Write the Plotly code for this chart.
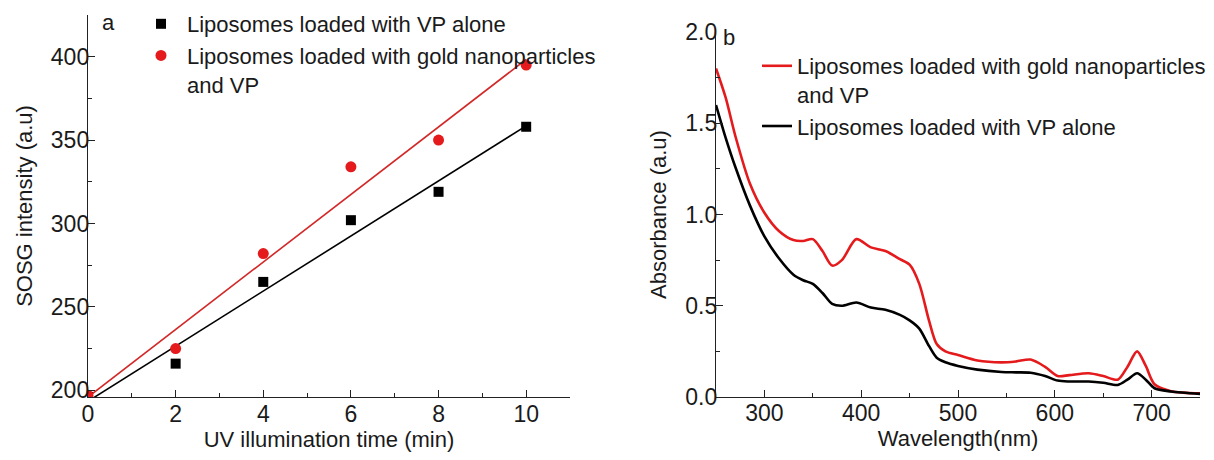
import numpy as np
import plotly.graph_objects as go

# ---------------- Panel a data ----------------
time_min = [0, 2, 4, 6, 8, 10]
sosg_vp_alone = [196, 216, 265, 302, 319, 358]
sosg_gold_vp = [197, 225, 282, 334, 350, 395]

# ---------------- Panel b data ----------------
wavelength = [250, 260, 270, 285, 300, 315, 330, 340, 350, 360, 370, 380, 395,
              410, 425, 440, 450, 460, 470, 478, 487, 500, 520, 545, 560, 575,
              590, 603, 615, 635, 650, 665, 675, 685, 694, 703, 720, 750]
abs_gold_vp = [1.80, 1.64, 1.43, 1.17, 1.01, 0.91, 0.86, 0.855, 0.865, 0.80, 0.72,
               0.75, 0.865, 0.82, 0.80, 0.755, 0.725, 0.62, 0.42, 0.29, 0.25, 0.23,
               0.20, 0.19, 0.195, 0.205, 0.165, 0.115, 0.12, 0.13, 0.115, 0.095,
               0.165, 0.25, 0.17, 0.07, 0.032, 0.02]
abs_vp_alone = [1.60, 1.42, 1.26, 1.05, 0.88, 0.76, 0.67, 0.64, 0.62, 0.57, 0.51,
                0.50, 0.518, 0.49, 0.478, 0.45, 0.42, 0.375, 0.28, 0.215, 0.19, 0.17,
                0.15, 0.137, 0.135, 0.133, 0.115, 0.09, 0.085, 0.085, 0.078, 0.066,
                0.095, 0.13, 0.095, 0.048, 0.03, 0.017]

name_alone = "Liposomes loaded with VP alone"
name_gold = "Liposomes loaded with gold nanoparticles<br>and VP"

RED = "rgb(228,26,28)"
RED_LINE = "rgb(210,40,40)"
BLACK = "black"
FONT = "Liberation Sans, Arial, sans-serif"
PAGE_OFF = 8            # default body margin of the html page
W, H = 1214 - PAGE_OFF, 460 - PAGE_OFF

fig = go.Figure()

# linear fits (panel a)
x_fit = np.array([0, 10])
k_b, b_b = np.polyfit(time_min, sosg_vp_alone, 1)
k_r, b_r = np.polyfit(time_min, sosg_gold_vp, 1)

fig.add_trace(go.Scatter(x=x_fit, y=k_b * x_fit + b_b, mode="lines",
                         line=dict(color=BLACK, width=1.6), showlegend=False,
                         xaxis="x", yaxis="y"))
fig.add_trace(go.Scatter(x=x_fit, y=k_r * x_fit + b_r, mode="lines",
                         line=dict(color=RED_LINE, width=1.6), showlegend=False,
                         xaxis="x", yaxis="y"))
fig.add_trace(go.Scatter(x=time_min, y=sosg_vp_alone, mode="markers", name=name_alone,
                         marker=dict(symbol="square", color=BLACK, size=10),
                         xaxis="x", yaxis="y", legend="legend"))
fig.add_trace(go.Scatter(x=time_min, y=sosg_gold_vp, mode="markers", name=name_gold,
                         marker=dict(symbol="circle", color=RED, size=11),
                         xaxis="x", yaxis="y", legend="legend"))

# panel b curves
fig.add_trace(go.Scatter(x=wavelength, y=abs_gold_vp, mode="lines", name=name_gold,
                         line=dict(color=RED, width=2.6, shape="spline", smoothing=0.8),
                         xaxis="x2", yaxis="y2", legend="legend2"))
fig.add_trace(go.Scatter(x=wavelength, y=abs_vp_alone, mode="lines", name=name_alone,
                         line=dict(color=BLACK, width=2.6, shape="spline", smoothing=0.8),
                         xaxis="x2", yaxis="y2", legend="legend2"))


def px_x(p):
    return (p - PAGE_OFF) / W


def px_y(p):
    return 1 - (p - PAGE_OFF) / H


axis_common = dict(showline=True, linecolor="#222", linewidth=1.4, showgrid=False,
                   zeroline=False, ticks="inside", ticklen=7, tickwidth=1.3,
                   tickcolor="#222", automargin=False,
                   tickfont=dict(family=FONT, size=23, color="#1a1a1a"))

fig.update_layout(
    width=W, height=H,
    margin=dict(l=0, r=0, t=0, b=0, autoexpand=False),
    paper_bgcolor="white", plot_bgcolor="white",
    font=dict(family=FONT, size=22, color="#1a1a1a"),
    xaxis=dict(domain=[px_x(88), px_x(570)], range=[0, 11], dtick=2, tick0=0,
               minor=dict(ticks="inside", ticklen=4, dtick=1, tickcolor="#222"),
               ticklabelstandoff=-4,
               title=dict(text="UV illumination time (min)", standoff=4,
                          font=dict(family=FONT, size=22)),
               anchor="y", **axis_common),
    yaxis=dict(domain=[px_y(397), px_y(15)], range=[196, 425], dtick=50, tick0=200,
               minor=dict(ticks="inside", ticklen=4, dtick=25, tickcolor="#222"),
               ticklabelstandoff=-7,
               title=dict(text="SOSG intensity (a.u)", standoff=12,
                          font=dict(family=FONT, size=22)),
               anchor="x", **axis_common),
    xaxis2=dict(domain=[px_x(716), px_x(1200)], range=[250, 750], dtick=100, tick0=300,
                minor=dict(ticks="inside", ticklen=4, dtick=50, tickcolor="#222"),
                ticklabelstandoff=-5,
                title=dict(text="Wavelength(nm)", standoff=2,
                           font=dict(family=FONT, size=22)),
                anchor="y2", **axis_common),
    yaxis2=dict(domain=[px_y(397), px_y(32)], range=[0, 2], dtick=0.5, tick0=0,
                tickformat=".1f",
                minor=dict(ticks="inside", ticklen=4, dtick=0.25, tickcolor="#222"),
                ticklabelstandoff=-7,
                title=dict(text="Absorbance (a.u)", standoff=12,
                           font=dict(family=FONT, size=22)),
                anchor="x2", **axis_common),
    legend=dict(x=px_x(135), y=px_y(3), xanchor="left", yanchor="top",
                bgcolor="rgba(0,0,0,0)", borderwidth=0, valign="top",
                tracegroupgap=0, itemwidth=42,
                font=dict(family=FONT, size=22, color="#1a1a1a")),
    legend2=dict(x=px_x(757), y=px_y(45), xanchor="left", yanchor="top",
                 bgcolor="rgba(0,0,0,0)", borderwidth=0, valign="top",
                 tracegroupgap=0, itemwidth=30,
                 font=dict(family=FONT, size=22, color="#1a1a1a")),
    annotations=[
        dict(text="a", x=px_x(109), y=px_y(22), xref="paper", yref="paper",
             xanchor="center", yanchor="middle", showarrow=False,
             font=dict(family=FONT, size=22, color="#1a1a1a")),
        dict(text="b", x=px_x(729), y=px_y(37), xref="paper", yref="paper",
             xanchor="center", yanchor="middle", showarrow=False,
             font=dict(family=FONT, size=22, color="#1a1a1a")),
    ],
)

fig.write_html("out.html")
